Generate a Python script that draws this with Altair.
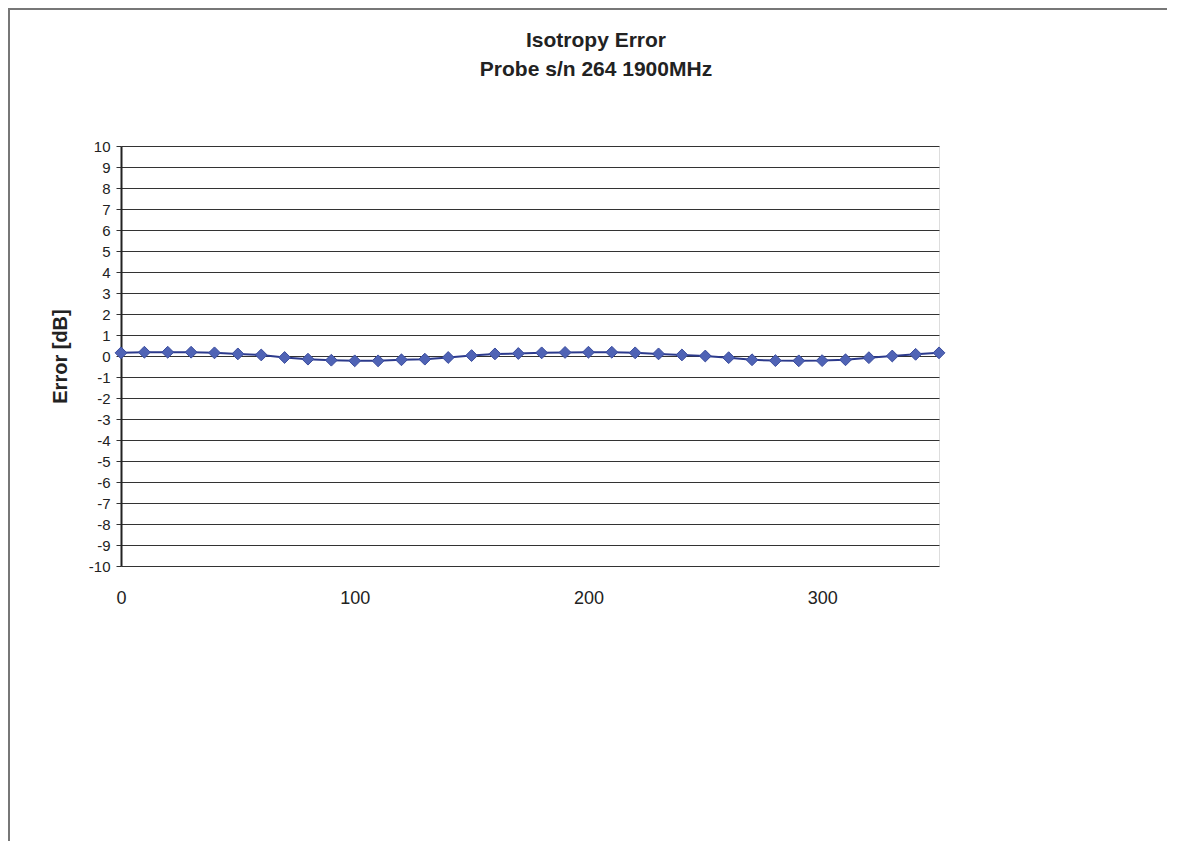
import altair as alt
import pandas as pd

angles = list(range(0, 360, 10))
errors = [0.15, 0.18, 0.18, 0.18, 0.15, 0.10, 0.05, -0.07, -0.15, -0.20, -0.23, -0.23,
          -0.18, -0.15, -0.07, 0.02, 0.10, 0.12, 0.15, 0.17, 0.18, 0.18, 0.15, 0.10,
          0.05, 0.00, -0.08, -0.18, -0.22, -0.23, -0.22, -0.18, -0.08, 0.00, 0.08, 0.15]
y_ticks = list(range(-10, 11))
x_ticks = [0, 100, 200, 300]
title_lines = ["Isotropy Error", "Probe s/n 264 1900MHz"]

df = pd.DataFrame({"angle": angles, "error": errors})

font = "Liberation Sans"

x = alt.X("angle:Q", scale=alt.Scale(domain=[0, 350], nice=False, zero=False),
          axis=alt.Axis(values=x_ticks, title=None, grid=False, ticks=False, domain=False,
                        labelFontSize=18, labelFont=font, labelColor="#222",
                        labelPadding=23, labelFlush=False))
y = alt.Y("error:Q", scale=alt.Scale(domain=[-10, 10], nice=False),
          axis=alt.Axis(values=y_ticks, title="Error [dB]", grid=True, gridColor="#333",
                        gridWidth=1, tickSize=5, tickColor="#333", domainColor="#222",
                        domainWidth=2, labelFontSize=15, labelFont=font, labelColor="#222",
                        labelExpr="datum.value", labelPadding=6,
                        titleFontSize=20, titleFont=font, titleFontWeight="bold",
                        titleColor="#222", titlePadding=18))

line = alt.Chart(df).mark_line(color="#2c3a8c", strokeWidth=2).encode(x=x, y=y)
pts = alt.Chart(df).mark_point(shape="diamond", filled=True, size=140, color="#4f63b5",
                               opacity=1, stroke="#3a4c9e", strokeWidth=1).encode(x=x, y=y)

# chart title as two text lines
t1 = alt.Chart(pd.DataFrame({"t": [title_lines[0]]})).mark_text(
    font=font, fontSize=21, fontWeight="bold", color="#222", align="center",
    baseline="alphabetic").encode(text="t:N", x=alt.value(475), y=alt.value(-99))
t2 = alt.Chart(pd.DataFrame({"t": [title_lines[1]]})).mark_text(
    font=font, fontSize=21, fontWeight="bold", color="#222", align="center",
    baseline="alphabetic").encode(text="t:N", x=alt.value(475), y=alt.value(-70))

# page frame (scanned chart-area border on the left and top)
frame_left = alt.Chart(df).mark_rule(color="#777", strokeWidth=2, clip=False).encode(
    x=alt.value(-112), y=alt.value(-137), y2=alt.value(720))
frame_top = alt.Chart(df).mark_rule(color="#777", strokeWidth=2, clip=False).encode(
    x=alt.value(-113), x2=alt.value(1060), y=alt.value(-137), y2=alt.value(-137))

chart = (frame_left + frame_top + t1 + t2 + line + pts).properties(
    width=818, height=420,
    autosize=alt.AutoSizeParams(type="none"),
    padding={"left": 113, "top": 138, "right": 228, "bottom": 282},
).configure_view(stroke="#222", strokeWidth=2).configure(background="white")

chart.save("out.html", embed_options={"renderer": "svg", "actions": False})
